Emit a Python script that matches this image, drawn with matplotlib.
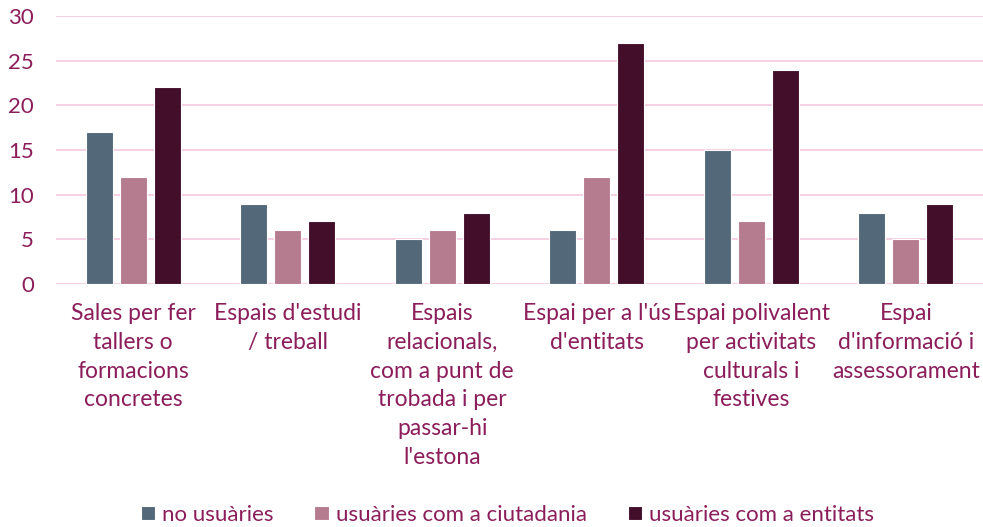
import numpy as np
import matplotlib.pyplot as plt

categories = ["Sales per fer\ntallers o\nformacions\nconcretes",
              "Espais d'estudi\n/ treball",
              "Espais\nrelacionals,\ncom a punt de\ntrobada i per\npassar-hi\nl'estona",
              "Espai per a l'ús\nd'entitats",
              "Espai polivalent\nper activitats\nculturals i\nfestives",
              "Espai\nd'informació i\nassessorament"]
series_names = ["no usuàries", "usuàries com a ciutadania", "usuàries com a entitats"]
no_usuaries = [17, 9, 5, 6, 15, 8]
ciutadania = [12, 6, 6, 12, 7, 5]
entitats = [22, 7, 8, 27, 24, 9]

colors = ["#536879", "#b57b8f", "#420e2a"]
txt = "#8c1d5b"

plt.rcParams['font.family'] = ['Lato', 'DejaVu Sans']

fig = plt.figure(figsize=(9.83, 5.27), dpi=100)
ax = fig.add_axes([56/983, 1-284/527, 927/983, 268/527])

x = np.arange(len(categories))
w = 0.175
step = 0.22
for i, vals in enumerate([no_usuaries, ciutadania, entitats]):
    ax.bar(x + (i-1)*step, vals, w, color=colors[i], edgecolor='white',
           linewidth=0.8, label=series_names[i], zorder=3)

ax.set_xlim(-0.5, len(categories)-0.5)
ax.set_ylim(0, 30)
ax.set_yticks(range(0, 31, 5))
ax.yaxis.grid(True, color='#f5cde0', linewidth=1.3, zorder=0)
ax.set_axisbelow(True)
for s in ax.spines.values():
    s.set_visible(False)
ax.tick_params(length=0, labelcolor=txt)
ax.tick_params(axis='y', pad=16, labelsize=16)
ax.set_xticks(x)
ax.set_xticklabels(categories, linespacing=1.45, va='top')
ax.tick_params(axis='x', pad=14, labelsize=16.5)

leg = fig.legend(loc='center', bbox_to_anchor=(0.516, 0.023), ncol=3,
                 frameon=False, fontsize=16, handlelength=0.65, handleheight=0.65,
                 handletextpad=0.3, columnspacing=1.85)
for t in leg.get_texts():
    t.set_color(txt)

fig.savefig("out.png", dpi=100)
